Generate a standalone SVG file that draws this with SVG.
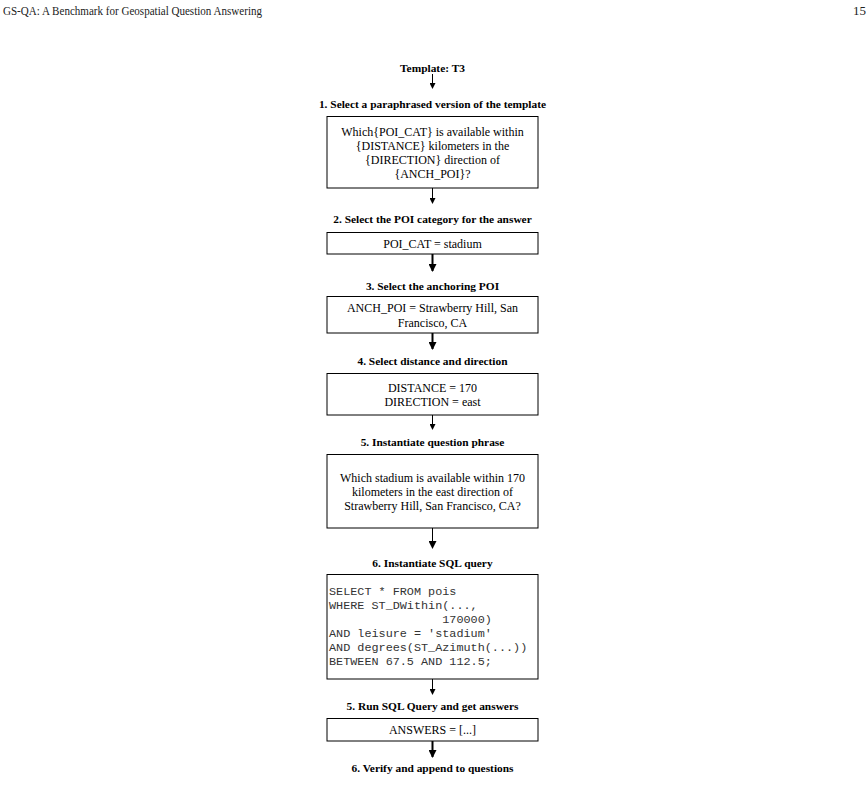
<svg xmlns="http://www.w3.org/2000/svg" width="868" height="805" viewBox="0 0 868 805">
<style>
.hdr{font-family:"Liberation Serif",serif;font-size:13px;fill:#222}
.lbl{font-family:"Liberation Serif",serif;font-size:11.4px;font-weight:bold;fill:#000;text-anchor:middle}
.txt{font-family:"Liberation Serif",serif;font-size:12px;fill:#000;text-anchor:middle}
.mono{font-family:"Liberation Mono",monospace;font-size:11.8px;fill:#333}
.box{fill:#fff;stroke:#000;stroke-width:1}
.thin{stroke:#000;stroke-width:1;fill:none}
.thick{stroke:#000;stroke-width:2;fill:none}
</style>
<defs>
<marker id="ah" markerWidth="6" markerHeight="6" refX="5" refY="3" orient="auto" markerUnits="userSpaceOnUse">
<path d="M0,0 L6,3 L0,6 Z" fill="#000"/>
</marker>
<marker id="ahb" markerWidth="8" markerHeight="8" refX="7" refY="4" orient="auto" markerUnits="userSpaceOnUse">
<path d="M0,0 L8,4 L0,8 Z" fill="#000"/>
</marker>
</defs>
<rect width="868" height="805" fill="#fff"/>
<text class="hdr" x="3" y="15" textLength="259" lengthAdjust="spacingAndGlyphs">GS-QA: A Benchmark for Geospatial Question Answering</text>
<text class="hdr" x="866" y="15" text-anchor="end">15</text>

<g id="connectors">
<line class="thin" x1="432.5" y1="74" x2="432.5" y2="88" marker-end="url(#ah)"/>
<line class="thin" x1="432.5" y1="188" x2="432.5" y2="203" marker-end="url(#ah)"/>
<line class="thick" x1="432.5" y1="254" x2="432.5" y2="271" marker-end="url(#ahb)"/>
<line class="thick" x1="432.5" y1="333" x2="432.5" y2="349" marker-end="url(#ahb)"/>
<line class="thin" x1="432.5" y1="415" x2="432.5" y2="429" marker-end="url(#ah)"/>
<line class="thin" x1="432.5" y1="528" x2="432.5" y2="548" marker-end="url(#ahb)"/>
<line class="thin" x1="432.5" y1="679" x2="432.5" y2="694" marker-end="url(#ah)"/>
<line class="thick" x1="432.5" y1="741" x2="432.5" y2="757" marker-end="url(#ahb)"/>
</g>

<g id="template"><text class="lbl" x="432.5" y="72">Template: T3</text></g>

<g id="step1">
<text class="lbl" x="432.5" y="108">1. Select a paraphrased version of the template</text>
<rect class="box" x="327" y="116.5" width="211" height="71.5"/>
<text class="txt" x="432.5" y="135.5">Which{POI_CAT} is available within</text>
<text class="txt" x="432.5" y="149.5">{DISTANCE} kilometers in the</text>
<text class="txt" x="432.5" y="163.5">{DIRECTION} direction of</text>
<text class="txt" x="432.5" y="177.5">{ANCH_POI}?</text>
</g>

<g id="step2">
<text class="lbl" x="432.5" y="223">2. Select the POI category for the answer</text>
<rect class="box" x="327" y="232.5" width="211" height="21.5"/>
<text class="txt" x="432.5" y="247.5">POI_CAT = stadium</text>
</g>

<g id="step3">
<text class="lbl" x="432.5" y="290">3. Select the anchoring POI</text>
<rect class="box" x="327" y="296.5" width="211" height="36.5"/>
<text class="txt" x="432.5" y="311.5">ANCH_POI = Strawberry Hill, San</text>
<text class="txt" x="432.5" y="326.5">Francisco, CA</text>
</g>

<g id="step4">
<text class="lbl" x="432.5" y="365">4. Select distance and direction</text>
<rect class="box" x="327" y="373.5" width="211" height="41.5"/>
<text class="txt" x="432.5" y="391.5">DISTANCE = 170</text>
<text class="txt" x="432.5" y="405.5">DIRECTION = east</text>
</g>

<g id="step5">
<text class="lbl" x="432.5" y="446">5. Instantiate question phrase</text>
<rect class="box" x="327" y="454.5" width="211" height="73.5"/>
<text class="txt" x="432.5" y="481.5">Which stadium is available within 170</text>
<text class="txt" x="432.5" y="495.5">kilometers in the east direction of</text>
<text class="txt" x="432.5" y="509.5">Strawberry Hill, San Francisco, CA?</text>
</g>

<g id="step6">
<text class="lbl" x="432.5" y="567">6. Instantiate SQL query</text>
<rect class="box" x="327" y="574.5" width="211" height="104.5"/>
<text class="mono" x="329" y="595" xml:space="preserve">SELECT * FROM pois</text>
<text class="mono" x="329" y="609" xml:space="preserve">WHERE ST_DWithin(...,</text>
<text class="mono" x="329" y="623" xml:space="preserve">                170000)</text>
<text class="mono" x="329" y="637" xml:space="preserve">AND leisure = 'stadium'</text>
<text class="mono" x="329" y="651" xml:space="preserve">AND degrees(ST_Azimuth(...))</text>
<text class="mono" x="329" y="665" xml:space="preserve">BETWEEN 67.5 AND 112.5;</text>
</g>

<g id="step7">
<text class="lbl" x="432.5" y="710">5. Run SQL Query and get answers</text>
<rect class="box" x="327" y="718.5" width="211" height="22.5"/>
<text class="txt" x="432.5" y="734">ANSWERS = [...]</text>
</g>

<g id="step8">
<text class="lbl" x="432.5" y="772">6. Verify and append to questions</text>
</g>
</svg>
